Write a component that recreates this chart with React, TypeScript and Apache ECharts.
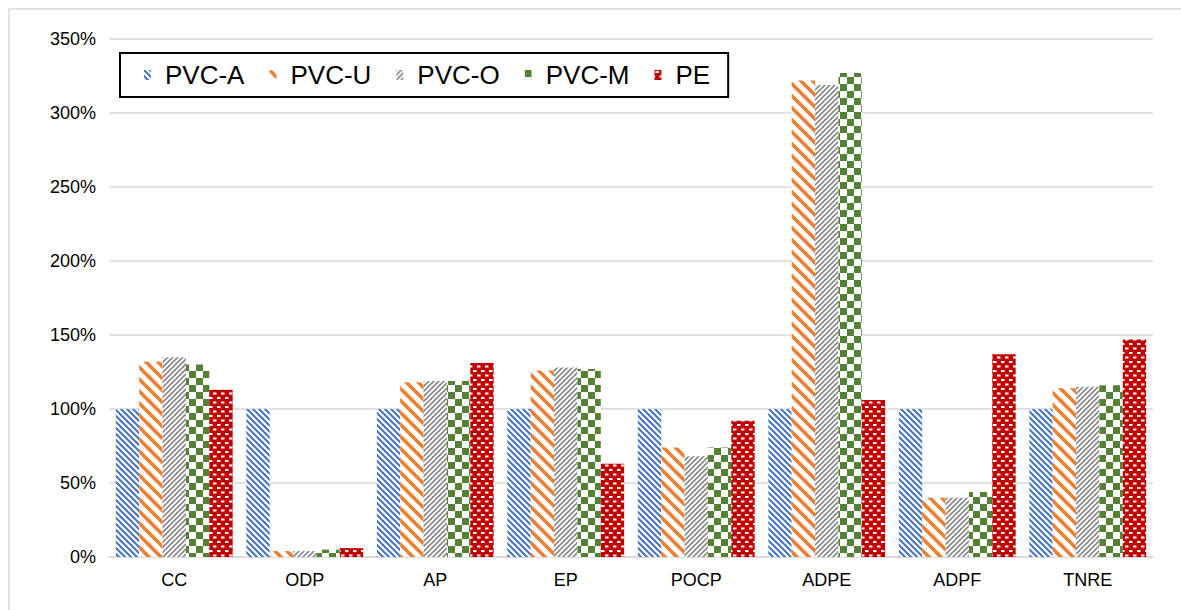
import React, { useEffect, useRef } from "react";
import * as echarts from "echarts";

const categories = ["CC", "ODP", "AP", "EP", "POCP", "ADPE", "ADPF", "TNRE"];
const seriesNames = ["PVC-A", "PVC-U", "PVC-O", "PVC-M", "PE"];
const pvcA = [100, 100, 100, 100, 100, 100, 100, 100];
const pvcU = [132, 4, 118, 126, 74, 322, 40, 114];
const pvcO = [135, 4, 119, 128, 68, 319, 40, 115];
const pvcM = [130, 5, 119, 127, 74, 327, 44, 116];
const pe = [113, 6, 131, 63, 92, 106, 137, 147];
const yMin = 0;
const yMax = 350;
const yStep = 50;

const FONT = "'Liberation Sans', Arial, sans-serif";

function tile(w: number, h: number, draw: (ctx: CanvasRenderingContext2D) => void, bg = "#ffffff") {
  const c = document.createElement("canvas");
  c.width = w;
  c.height = h;
  const ctx = c.getContext("2d") as CanvasRenderingContext2D;
  ctx.fillStyle = bg;
  ctx.fillRect(0, 0, w, h);
  draw(ctx);
  return { image: c, repeat: "repeat", imageWidth: w, imageHeight: h } as any;
}

function diag(p: number, lw: number, color: string, down: boolean) {
  return tile(p, p, (ctx) => {
    ctx.strokeStyle = color;
    ctx.lineWidth = lw;
    ctx.lineCap = "square";
    for (let k = -1; k <= 1; k++) {
      ctx.beginPath();
      if (down) {
        ctx.moveTo(k * p, 0);
        ctx.lineTo(k * p + p, p);
      } else {
        ctx.moveTo(k * p, p);
        ctx.lineTo(k * p + p, 0);
      }
      ctx.stroke();
    }
  });
}

function checker(s: number, color: string) {
  return tile(s * 2, s * 2, (ctx) => {
    ctx.fillStyle = color;
    ctx.fillRect(0, 0, s, s);
    ctx.fillRect(s, s, s, s);
  });
}

function bricks(color: string) {
  return tile(
    8,
    9,
    (ctx) => {
      ctx.fillStyle = "#ffffff";
      ctx.fillRect(1, 1, 3.5, 2);
      ctx.fillRect(5, 5.5, 3, 2);
      ctx.fillRect(0, 5.5, 0.5, 2);
    },
    color
  );
}

export default function App() {
  const ref = useRef<HTMLDivElement>(null);
  useEffect(() => {
    if (!ref.current) return;
    const chart = echarts.init(ref.current, null, { renderer: "svg" });
    const patterns = [
      diag(6, 2, "#4472C4", true),
      diag(12, 3.5, "#ED7D31", true),
      diag(5, 1.8, "#8C8C8C", false),
      checker(7, "#548235"),
      bricks("#C00000"),
    ];
    const data = [pvcA, pvcU, pvcO, pvcM, pe];
    chart.setOption({
      animation: false,
      backgroundColor: "#ffffff",
      graphic: [
        {
          type: "rect",
          silent: true,
          shape: { x: 9, y: 9, width: 1300, height: 800 },
          style: { fill: "none", stroke: "#d9d9d9", lineWidth: 1.5 },
        },
      ],
      legend: {
        left: 120,
        top: 53,
        orient: "horizontal",
        borderColor: "#000000",
        borderWidth: 2,
        padding: [9, 18, 9, 24],
        itemGap: 25,
        itemWidth: 7,
        itemHeight: 10,
        icon: "rect",
        textStyle: { fontSize: 26, fontFamily: FONT, color: "#000000", padding: [0, 0, 0, 9] },
        data: seriesNames,
      },
      grid: { left: 109, right: 28, top: 39, bottom: 53 },
      xAxis: {
        type: "category",
        data: categories,
        axisLine: { lineStyle: { color: "#d9d9d9", width: 1.5 } },
        axisTick: { show: false },
        axisLabel: { fontSize: 18, fontFamily: FONT, color: "#000000", margin: 14 },
      },
      yAxis: {
        type: "value",
        min: yMin,
        max: yMax,
        interval: yStep,
        axisLine: { show: false },
        axisTick: { show: false },
        splitLine: { lineStyle: { color: "#d9d9d9", width: 1.5 } },
        axisLabel: { formatter: "{value}%", fontSize: 18, fontFamily: FONT, color: "#000000", margin: 13 },
      },
      series: seriesNames.map((name, i) => ({
        name,
        type: "bar",
        data: data[i],
        barGap: "0%",
        barCategoryGap: "10.5%",
        itemStyle: { color: patterns[i] },
        emphasis: { disabled: true },
      })),
    });
    return () => chart.dispose();
  }, []);
  return (
    <div
      ref={ref}
      style={{ position: "fixed", left: 0, top: 0, width: 1181, height: 610, background: "#fff" }}
    />
  );
}
